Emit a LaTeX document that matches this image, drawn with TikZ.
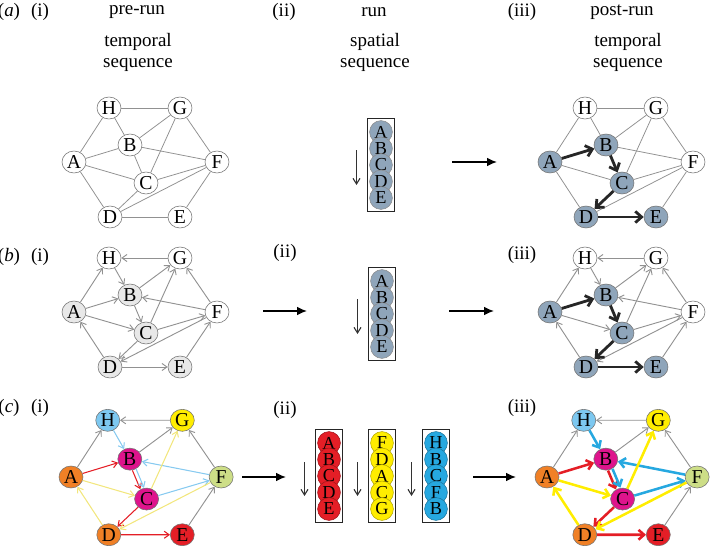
\documentclass[tikz,border=0pt]{standalone}
\usepackage{fontspec}
\setmainfont{Liberation Serif}
\usetikzlibrary{shapes}
\usetikzlibrary{positioning}
\usetikzlibrary{arrows.meta}
\usetikzlibrary{calc}
\usetikzlibrary{fit}
\definecolor{slate}{RGB}{143,165,186}
\definecolor{pale}{RGB}{232,232,232}
\definecolor{edgegray}{RGB}{145,145,145}
\definecolor{orng}{RGB}{240,128,38}
\definecolor{sky}{RGB}{125,200,240}
\definecolor{yllw}{RGB}{255,237,0}
\definecolor{mgnt}{RGB}{222,20,140}
\definecolor{lime}{RGB}{205,222,135}
\definecolor{rd}{RGB}{228,30,38}
\definecolor{bluec}{RGB}{38,168,224}
\definecolor{paleyel}{RGB}{242,230,125}
\definecolor{palesky}{RGB}{135,202,240}
\tikzset{
    vtx/.style = {ellipse, draw=black!55, line width=0.4pt, inner sep=0pt, minimum width=0.6cm, minimum height=0.55cm, font=\fontsize{14}{16}\selectfont},
    vw/.style = {vtx, fill=white},
    vp/.style = {vtx, fill=pale},
    vs/.style = {vtx, fill=slate},
    vo/.style = {vtx, fill=orng},
    vb/.style = {vtx, fill=sky},
    vy/.style = {vtx, fill=yllw},
    vm/.style = {vtx, fill=mgnt},
    vl/.style = {vtx, fill=lime},
    vr/.style = {vtx, fill=rd},
    seqdot/.style = {circle, draw=black!45, line width=0.4pt, inner sep=0pt, minimum size=0.57cm, font=\fontsize{13}{14}\selectfont},
    seqbox/.style = {rectangle, draw=black!85, line width=0.8pt, inner sep=1.6pt},
    lbl/.style = {font=\fontsize{13.5}{15}\selectfont, align=center},
    ln/.style = {draw=edgegray, line width=0.55pt},
    arr/.style = {-{Straight Barb[length=3.5pt,width=5pt]}, draw=edgegray, line width=0.65pt},
    fat/.style = {-{Straight Barb[length=4.5pt,width=8pt]}, draw=black!85, line width=2pt},
    carr/.style = {-{Straight Barb[length=3.5pt,width=5pt]}, line width=0.75pt},
    cfat/.style = {-{Straight Barb[length=4pt,width=7pt]}, line width=1.8pt},
    pointer/.style = {-{Latex[length=7pt,width=6pt]}, line width=0.9pt},
    down/.style = {-{Straight Barb[length=4pt,width=5pt]}, line width=0.8pt, draw=black!80}
}
% prefix, then styles of A B C D E F G H
\newcommand{\graphnodes}[9]{%
  \node[#2] (#1A) at (0,0) {A};
  \node[#3] (#1B) at (56,-17) {B};
  \node[#4] (#1C) at (72,21) {C};
  \node[#5] (#1D) at (36,55) {D};
  \node[#6] (#1E) at (106,55) {E};
  \node[#7] (#1F) at (143,0) {F};
  \node[#8] (#1G) at (106,-54) {G};
  \node[#9] (#1H) at (35,-54) {H};
}
% prefix, dot style, letters
\newcommand{\seqcol}[3]{%
  \foreach \l [count=\i] in {#3}
    \node[seqdot,#2] (#1\i) at (0,{16.5*(\i-1)}) {\l};
  \node[seqbox, fit=(#11)(#15)] (#1box) {};
}

\begin{document}
\begin{tikzpicture}[x=0.025cm,y=-0.025cm]
\useasboundingbox (0,0) rectangle (713,546);
%
% headers
\node[lbl] (ta) at (9,12) {(\textit{a})};
\node[lbl] (tai) at (40,12) {(i)};
\node[lbl] (tpre) at (137,12) {pre-run};
\node[lbl] (tpret) at (138,52) {temporal\\sequence};
\node[lbl] (taii) at (284,12) {(ii)};
\node[lbl] (trun) at (374,12) {run};
\node[lbl] (truns) at (375,52) {spatial\\sequence};
\node[lbl] (taiii) at (522,12) {(iii)};
\node[lbl] (tpost) at (622,12) {post-run};
\node[lbl] (tpostt) at (628,52) {temporal\\sequence};
\node[lbl] (tb) at (9,257) {(\textit{b})};
\node[lbl] (tbi) at (40,257) {(i)};
\node[lbl] (tbii) at (285,253) {(ii)};
\node[lbl] (tbiii) at (522,255) {(iii)};
\node[lbl] (tc) at (9,408) {(\textit{c})};
\node[lbl] (tci) at (40,408) {(i)};
\node[lbl] (tcii) at (285,410) {(ii)};
\node[lbl] (tciii) at (522,408) {(iii)};
%
% (a)(i)
\begin{scope}[shift={(74,162)}]
\graphnodes{ai}{vw}{vw}{vw}{vw}{vw}{vw}{vw}{vw}
\foreach \u/\v in {H/G,A/H,H/B,B/G,G/C,G/F,A/B,B/F,B/C,A/C,A/D,C/F,C/D,D/F,D/E,E/F}
  \draw[ln] (ai\u) -- (ai\v);
\end{scope}
% (a)(iii)
\begin{scope}[shift={(550,162)}]
\graphnodes{aiii}{vs}{vs}{vs}{vs}{vs}{vw}{vw}{vw}
\foreach \u/\v in {H/G,A/H,H/B,B/G,G/C,G/F,B/F,A/C,A/D,C/F,D/F,E/F}
  \draw[ln] (aiii\u) -- (aiii\v);
\foreach \u/\v in {A/B,B/C,C/D,D/E}
  \draw[fat] (aiii\u) -- (aiii\v);
\end{scope}
% (a)(ii)
\begin{scope}[shift={(381,132)}]
\seqcol{aii}{fill=slate}{A,B,C,D,E}
\end{scope}
\coordinate (adt) at ($(aiibox.west)+(-10,-15)$);
\coordinate (adb) at ($(aiibox.west)+(-10,20)$);
\draw[down] (adt) -- (adb);
\coordinate (ar1) at (452,162);
\coordinate (ar2) at (497,162);
\draw[pointer] (ar1) -- (ar2);
%
% (b)(i)
\begin{scope}[shift={(74,312)}]
\graphnodes{bi}{vp}{vp}{vp}{vp}{vp}{vw}{vw}{vw}
\foreach \u/\v in {G/H,A/H,H/B,A/B,B/G,B/C,A/C,C/G,F/B,C/F,F/G,D/A,C/D,F/D,D/E,E/F}
  \draw[arr] (bi\u) -- (bi\v);
\end{scope}
% (b)(iii)
\begin{scope}[shift={(550,312)}]
\graphnodes{biii}{vs}{vs}{vs}{vs}{vs}{vw}{vw}{vw}
\foreach \u/\v in {G/H,A/H,H/B,B/G,A/C,C/G,F/B,C/F,F/G,D/A,F/D,E/F}
  \draw[arr] (biii\u) -- (biii\v);
\foreach \u/\v in {A/B,B/C,C/D,D/E}
  \draw[fat] (biii\u) -- (biii\v);
\end{scope}
% (b)(ii)
\begin{scope}[shift={(382,281)}]
\seqcol{bii}{fill=slate}{A,B,C,D,E}
\end{scope}
\coordinate (bdt) at ($(biibox.west)+(-10,-15)$);
\coordinate (bdb) at ($(biibox.west)+(-10,20)$);
\draw[down] (bdt) -- (bdb);
\coordinate (bl1) at (263,311);
\coordinate (bl2) at (307,311);
\coordinate (br1) at (449,311);
\coordinate (br2) at (494,311);
\draw[pointer] (bl1) -- (bl2);
\draw[pointer] (br1) -- (br2);
%
% (c)(i)
\begin{scope}[shift={(71,477)},scale=1.05]
\graphnodes{ci}{vo}{vm}{vm}{vo}{vr}{vl}{vy}{vb}
\foreach \u/\v in {G/H,A/H,B/G,F/G,E/F}
  \draw[arr] (ci\u) -- (ci\v);
\foreach \u/\v in {A/B,C/D,D/E}
  \draw[carr,rd] (ci\u) -- (ci\v);
\foreach \u/\v in {H/B,F/B,C/F}
  \draw[carr,palesky] (ci\u) -- (ci\v);
\foreach \u/\v in {A/C,C/G,D/A,F/D}
  \draw[carr,paleyel] (ci\u) -- (ci\v);
\draw[carr,rd,transform canvas={xshift=-1.3pt,yshift=-0.5pt}] (ciB) -- (ciC);
\draw[carr,palesky,transform canvas={xshift=1.3pt,yshift=0.5pt}] (ciB) -- (ciC);
\end{scope}
% (c)(iii)
\begin{scope}[shift={(547,477)},scale=1.05]
\graphnodes{ciii}{vo}{vm}{vm}{vo}{vr}{vl}{vy}{vb}
\foreach \u/\v in {G/H,A/H,B/G,F/G,E/F}
  \draw[arr] (ciii\u) -- (ciii\v);
\foreach \u/\v in {A/B,C/D,D/E}
  \draw[cfat,rd] (ciii\u) -- (ciii\v);
\foreach \u/\v in {H/B,F/B,C/F}
  \draw[cfat,bluec] (ciii\u) -- (ciii\v);
\foreach \u/\v in {A/C,C/G,D/A,F/D}
  \draw[cfat,yllw] (ciii\u) -- (ciii\v);
\draw[cfat,rd,transform canvas={xshift=-1.6pt,yshift=-0.6pt}] (ciiiB) -- (ciiiC);
\draw[cfat,bluec,transform canvas={xshift=1.6pt,yshift=0.6pt}] (ciiiB) -- (ciiiC);
\end{scope}
% (c)(ii)
\begin{scope}[shift={(329,443)}]
\seqcol{ciir}{fill=rd,draw=rd!70!black}{A,B,C,D,E}
\end{scope}
\begin{scope}[shift={(382,443)}]
\seqcol{ciiy}{fill=yllw,draw=yllw!70!black}{F,D,A,C,G}
\end{scope}
\begin{scope}[shift={(436,443)}]
\seqcol{ciib}{fill=bluec,draw=bluec!70!black}{H,B,C,F,B}
\end{scope}
\foreach \s in {r,y,b} {
  \coordinate (cdt\s) at ($(cii\s box.west)+(-10,-14)$);
  \coordinate (cdb\s) at ($(cii\s box.west)+(-10,20)$);
  \draw[down] (cdt\s) -- (cdb\s);
}
\coordinate (cl1) at (242,477);
\coordinate (cl2) at (286,477);
\coordinate (cr1) at (473,477);
\coordinate (cr2) at (516,477);
\draw[pointer] (cl1) -- (cl2);
\draw[pointer] (cr1) -- (cr2);

\end{tikzpicture}
\end{document}
